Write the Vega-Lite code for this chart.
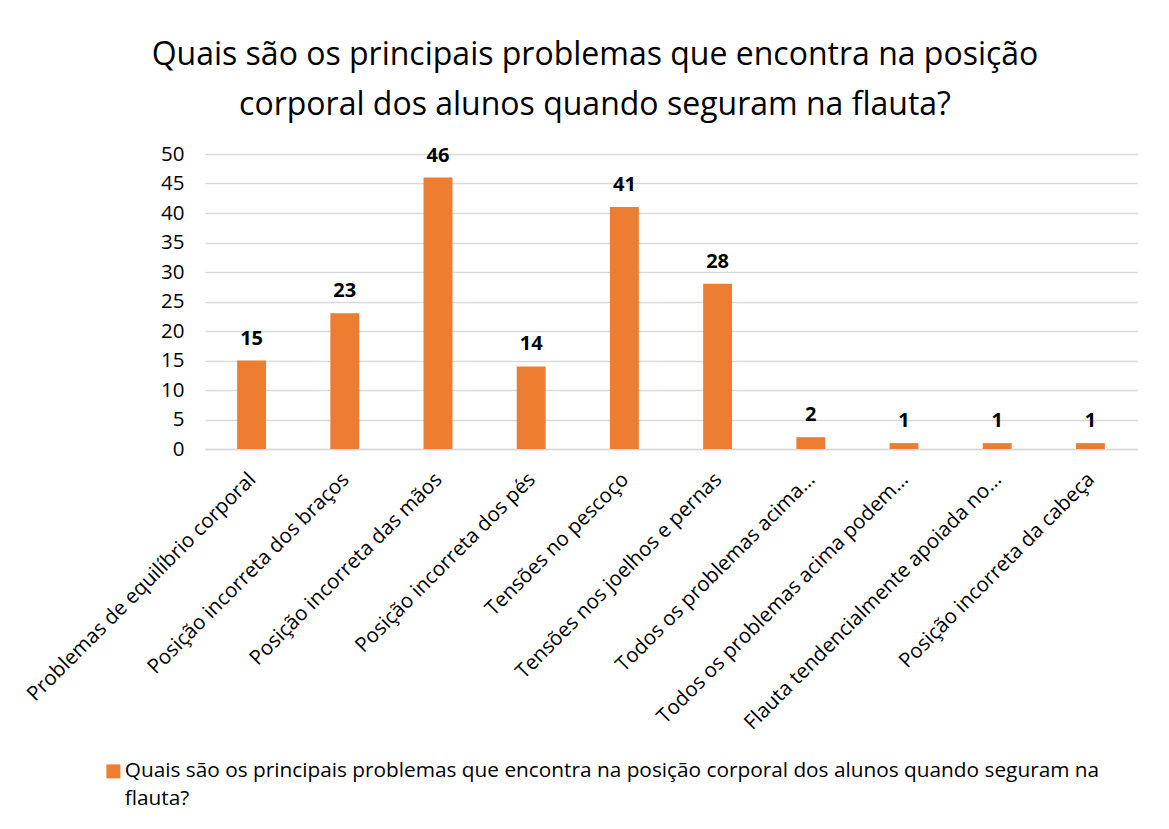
{
  "$schema": "https://vega.github.io/schema/vega-lite/v6.json",
  "width": 932,
  "height": 295,
  "autosize": {"type": "none"},
  "padding": {"left": 205, "top": 154, "right": 32, "bottom": 380},
  "background": "white",
  "title": {
    "text": ["Quais são os principais problemas que encontra na posição", "corporal dos alunos quando seguram na flauta?"],
    "font": "Open Sans",
    "fontSize": 32,
    "fontWeight": "normal",
    "color": "#000000",
    "anchor": "middle",
    "frame": "group",
    "dx": -76,
    "lineHeight": 50,
    "offset": 22
  },
  "config": {
    "view": {"stroke": null},
    "font": "Open Sans",
    "style": {"guide-label": {"lineHeight": 28}}
  },
  "data": {
    "values": [
      {"categoria": "Problemas de equilíbrio corporal", "valor": 15, "serie": "Quais são os principais problemas que encontra na posição corporal dos alunos quando seguram na flauta?"},
      {"categoria": "Posição incorreta dos braços", "valor": 23, "serie": "Quais são os principais problemas que encontra na posição corporal dos alunos quando seguram na flauta?"},
      {"categoria": "Posição incorreta das mãos", "valor": 46, "serie": "Quais são os principais problemas que encontra na posição corporal dos alunos quando seguram na flauta?"},
      {"categoria": "Posição incorreta dos pés", "valor": 14, "serie": "Quais são os principais problemas que encontra na posição corporal dos alunos quando seguram na flauta?"},
      {"categoria": "Tensões no pescoço", "valor": 41, "serie": "Quais são os principais problemas que encontra na posição corporal dos alunos quando seguram na flauta?"},
      {"categoria": "Tensões nos joelhos e pernas", "valor": 28, "serie": "Quais são os principais problemas que encontra na posição corporal dos alunos quando seguram na flauta?"},
      {"categoria": "Todos os problemas acima…", "valor": 2, "serie": "Quais são os principais problemas que encontra na posição corporal dos alunos quando seguram na flauta?"},
      {"categoria": "Todos os problemas acima podem…", "valor": 1, "serie": "Quais são os principais problemas que encontra na posição corporal dos alunos quando seguram na flauta?"},
      {"categoria": "Flauta tendencialmente apoiada no…", "valor": 1, "serie": "Quais são os principais problemas que encontra na posição corporal dos alunos quando seguram na flauta?"},
      {"categoria": "Posição incorreta da cabeça", "valor": 1, "serie": "Quais são os principais problemas que encontra na posição corporal dos alunos quando seguram na flauta?"}
    ]
  },
  "encoding": {
    "x": {
      "field": "categoria",
      "type": "nominal",
      "sort": null,
      "scale": {"paddingInner": 0.69, "paddingOuter": 0.345},
      "axis": {
        "title": null,
        "labelAngle": -45,
        "labelAlign": "right",
        "labelBaseline": "middle",
        "labelFont": "Open Sans",
        "labelFontSize": 20.5,
        "labelColor": "#000000",
        "labelPadding": 27,
        "labelOffset": 1,
        "labelLimit": 500,
        "ticks": false,
        "domainColor": "#d9d9d9",
        "domainWidth": 1.5
      }
    },
    "y": {
      "field": "valor",
      "type": "quantitative",
      "scale": {"domain": [0, 50]},
      "axis": {
        "title": null,
        "values": [0, 5, 10, 15, 20, 25, 30, 35, 40, 45, 50],
        "labelFont": "Open Sans",
        "labelFontSize": 20.5,
        "labelColor": "#000000",
        "labelPadding": 21,
        "ticks": false,
        "domain": false,
        "gridColor": "#d9d9d9",
        "gridWidth": 1.5
      }
    }
  },
  "layer": [
    {
      "mark": {"type": "bar", "color": "#ED7D31"},
      "encoding": {
        "color": {
          "field": "serie",
          "type": "nominal",
          "scale": {"range": ["#ED7D31"]},
          "legend": {
            "title": null,
            "orient": "none",
            "legendX": -102,
            "legendY": 607,
            "symbolType": "square",
            "symbolSize": 196,
            "symbolStrokeWidth": 0,
            "symbolOpacity": 1,
            "labelFont": "Open Sans",
            "labelFontSize": 20.8,
            "labelColor": "#000000",
            "labelLimit": 2000,
            "labelOffset": 1,
            "labelExpr": "['Quais são os principais problemas que encontra na posição corporal dos alunos quando seguram na', 'flauta?']"
          }
        }
      }
    },
    {
      "mark": {"type": "text", "font": "Open Sans", "fontWeight": "bold", "fontSize": 20, "baseline": "bottom", "dy": -12, "color": "#000000"},
      "encoding": {"text": {"field": "valor", "type": "quantitative"}}
    }
  ]
}
